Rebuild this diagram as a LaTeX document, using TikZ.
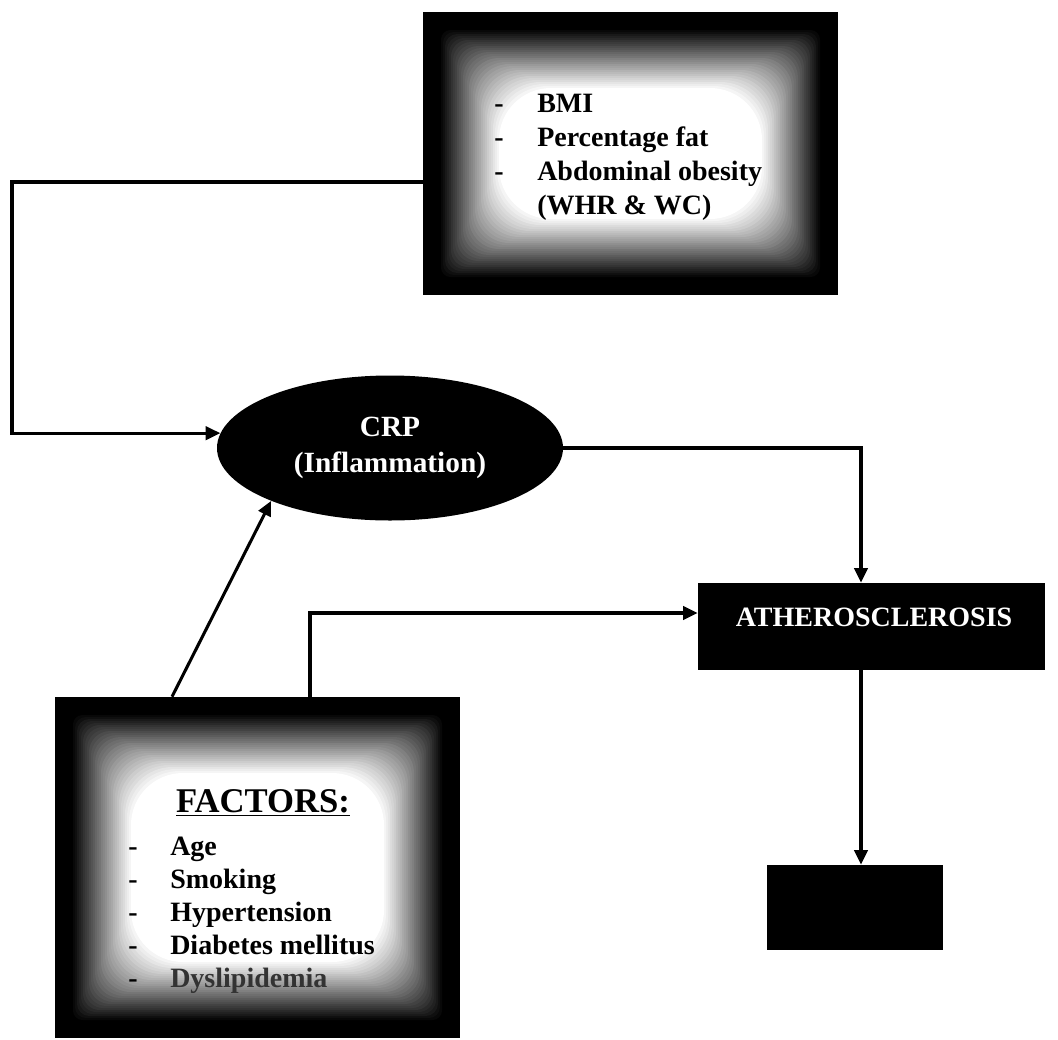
\documentclass[tikz,border=0pt]{standalone}
\usepackage{fontspec}
\setmainfont{Liberation Serif}
\usetikzlibrary{shapes.geometric,arrows.meta}
\newcommand\glowrect[4]{%
  \foreach \i in {0,...,30}{%
    \pgfmathsetmacro\dd{16+2*\i}%
    \pgfmathtruncatemacro\cc{100*\i/30}%
    \pgfmathsetmacro\rr{6+1.1*\i}%
    \fill[white!\cc!black, rounded corners=\rr pt] (#1+\dd,#2+\dd) rectangle (#3-\dd,#4-\dd);
  }%
}
\begin{document}
\begin{tikzpicture}[x=0.75pt,y=-0.75pt,
  conn/.style={line width=2.3pt,-{Triangle[length=11pt,width=10pt]}},
  blackbox/.style={draw=none,fill=black,rectangle,inner sep=0pt},
  wtext/.style={text=white,font=\bfseries\fontsize{21}{25}\selectfont,inner sep=0pt},
  item/.style={anchor=base west,font=\bfseries\fontsize{21}{25}\selectfont,inner sep=0pt},
]
\useasboundingbox (0,0) rectangle (1058,1040);

% boxes
\node[blackbox,minimum width=311.25pt,minimum height=212.25pt] (topbox) at (630.5,153.5) {};
\glowrect{423}{12}{838}{295}
\node[blackbox,minimum width=303.75pt,minimum height=255.75pt] (botbox) at (257.5,867.5) {};
\glowrect{55}{697}{460}{1038}
\node[ellipse,fill=black,minimum width=259.5pt,minimum height=108.75pt,inner sep=0pt,
      text=white,align=center,font=\bfseries\fontsize{22}{27}\selectfont] (ell) at (390,448) {CRP\\(Inflammation)};
\node[blackbox,minimum width=260.25pt,minimum height=65.25pt] (ath) at (871.5,626.5) {};
\node[wtext] (athl) at (874,617) {ATHEROSCLEROSIS};
\node[blackbox,minimum width=132pt,minimum height=63.75pt] (blk) at (855,907.5) {};

% top box items
\node[item] (tb1) at (494,112) {-};
\node[item] (tb2) at (494,146) {-};
\node[item] (tb3) at (494,180) {-};
\node[item] (t1) at (537,112) {BMI};
\node[item] (t2) at (537,146) {Percentage fat};
\node[item] (t3) at (537,180) {Abdominal obesity};
\node[item] (t4) at (537,214) {(WHR \& WC)};

% bottom box items
\node[inner sep=0pt,font=\bfseries\fontsize{26}{30}\selectfont] (fac) at (263,803) {\underline{FACTORS:}};
\node[item] (bb1) at (128,855) {-};
\node[item] (bb2) at (128,888) {-};
\node[item] (bb3) at (128,921) {-};
\node[item] (bb4) at (128,954) {-};
\node[item] (bb5) at (128,987) {-};
\node[item] (f1) at (170,855) {Age};
\node[item] (f2) at (170,888) {Smoking};
\node[item] (f3) at (170,921) {Hypertension};
\node[item] (f4) at (170,954) {Diabetes mellitus};
\node[item,text=black!80] (f5) at (170,987) {Dyslipidemia};

% connectors
\coordinate (tl) at (12,182);
\draw[conn] (topbox.west |- tl) -- (tl) |- (ell.175);
\coordinate (ar) at (861,445);
\draw[conn] (ell.east) -- (ell.east -| ar) -- (ar |- ath.north);
\draw[conn] (ath.south -| ar) -- (blk.north -| ar);
\coordinate (bb) at (310,613);
\draw[conn] (botbox.north -| bb) -- (bb) -- (bb -| ath.west);
\coordinate (ds) at (172,697);
\draw[conn] (botbox.north -| ds) -- (ell.204);
\end{tikzpicture}
\end{document}
